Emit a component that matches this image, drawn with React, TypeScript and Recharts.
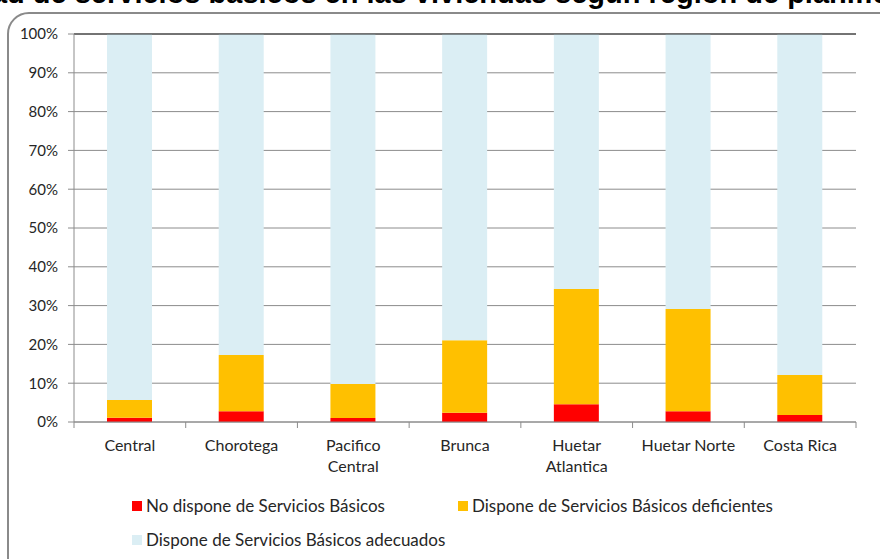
import {BarChart, Bar, XAxis, YAxis, CartesianGrid, Legend, ReferenceLine} from 'recharts'

const regions = ['Central', 'Chorotega', 'Pacifico Central', 'Brunca', 'Huetar Atlantica', 'Huetar Norte', 'Costa Rica']
const noDispone = [1.1, 2.8, 1.0, 2.4, 4.6, 2.8, 1.8]
const deficientes = [4.6, 14.5, 8.8, 18.7, 29.7, 26.3, 10.3]
const adecuados = [94.3, 82.7, 90.2, 78.9, 65.7, 70.9, 87.9]
const yTicks = [0, 10, 20, 30, 40, 50, 60, 70, 80, 90, 100]

const seriesNames = [
    'No dispone de Servicios Básicos',
    'Dispone de Servicios Básicos deficientes',
    'Dispone de Servicios Básicos adecuados',
]
const seriesColors = ['#ff0000', '#ffc000', '#dbeef4']

const chartData = regions.map((name, i) => ({
    name,
    no: noDispone[i],
    def: deficientes[i],
    ade: adecuados[i],
}))

const FONT = 'Lato, "Open Sans", sans-serif'

const RegionTick = ({x, y, payload, index, visibleTicksCount}: any) => {
    const label: string = payload.value
    // long names wrap onto two lines like the original
    const lines = label.length > 13 ? label.split(' ') : [label]
    const half = payload.offset || 0
    const isLast = index === visibleTicksCount - 1
    return (
        <g>
            {half > 0 && <line x1={x - half} x2={x - half} y1={y - 8} y2={y - 2} stroke="#8c8c8c" />}
            {half > 0 && isLast && <line x1={x + half} x2={x + half} y1={y - 8} y2={y - 2} stroke="#8c8c8c" />}
            <text x={x} y={y} textAnchor="middle" fill="#262626" fontSize={16} fontFamily={FONT}>
                {lines.map((l, i) => (
                    <tspan key={i} x={x} dy={21}>{l}</tspan>
                ))}
            </text>
        </g>
    )
}

const LegendBox = () => {
    const item = (i: number, left: number, top: number) => (
        <div style={{position: 'absolute', left, top, display: 'flex', alignItems: 'center', height: 33, whiteSpace: 'nowrap'}}>
            <span style={{width: 10, height: 10, background: seriesColors[i], marginRight: 4, display: 'inline-block'}} />
            <span>{seriesNames[i]}</span>
        </div>
    )
    return (
        <div style={{position: 'relative', fontFamily: FONT, fontSize: 17, color: '#262626', height: 70}}>
            {item(0, 132, 0)}
            {item(1, 458, 0)}
            {item(2, 132, 34)}
        </div>
    )
}

export default function App() {
    return (
        <div style={{position: 'absolute', left: 0, top: 0, width: 880, height: 559, overflow: 'hidden', background: '#fff'}}>
            <div style={{position: 'absolute', left: 7, top: 12, width: 920, height: 620, border: '2px solid #8a8a8a', borderRadius: 22, boxSizing: 'border-box'}} />
            <div style={{position: 'absolute', left: -175, top: -23, lineHeight: '33px', fontFamily: 'Liberation Sans, Arial, sans-serif', fontWeight: 'bold', fontSize: 29, whiteSpace: 'nowrap', color: '#000'}}>
                Disponibilidad de servicios básicos en las viviendas según región de planificación
            </div>
            <div style={{position: 'absolute', left: 0, top: 0}}>
                <BarChart width={880} height={559} data={chartData} margin={{top: 34, right: 24, left: 10, bottom: 0}}>
                    <CartesianGrid vertical={false} stroke="#8c8c8c" strokeWidth={1} />
                    <XAxis dataKey="name" height={67} tickLine={false} axisLine={{stroke: '#8c8c8c'}} tick={<RegionTick />} interval={0} />
                    <YAxis domain={[0, 100]} ticks={yTicks} width={64} tickFormatter={(v) => `${v}%`} axisLine={{stroke: '#8c8c8c'}} tickLine={{stroke: '#8c8c8c'}} tickSize={6} tickMargin={10} tick={{fill: '#262626', fontSize: 15, fontFamily: FONT}} />
                    <YAxis yAxisId="r" orientation="right" width={0} domain={[0, 100]} axisLine={{stroke: '#000'}} tick={false} tickLine={false} />
                    <ReferenceLine y={100} stroke="#222" />
                    <Legend verticalAlign="bottom" wrapperStyle={{left: 0, width: 880}} content={<LegendBox />} />
                    <Bar dataKey="no" name={seriesNames[0]} stackId="a" fill={seriesColors[0]} barSize={45} isAnimationActive={false} />
                    <Bar dataKey="def" name={seriesNames[1]} stackId="a" fill={seriesColors[1]} barSize={45} isAnimationActive={false} />
                    <Bar dataKey="ade" name={seriesNames[2]} stackId="a" fill={seriesColors[2]} barSize={45} isAnimationActive={false} />
                </BarChart>
            </div>
        </div>
    )
}
